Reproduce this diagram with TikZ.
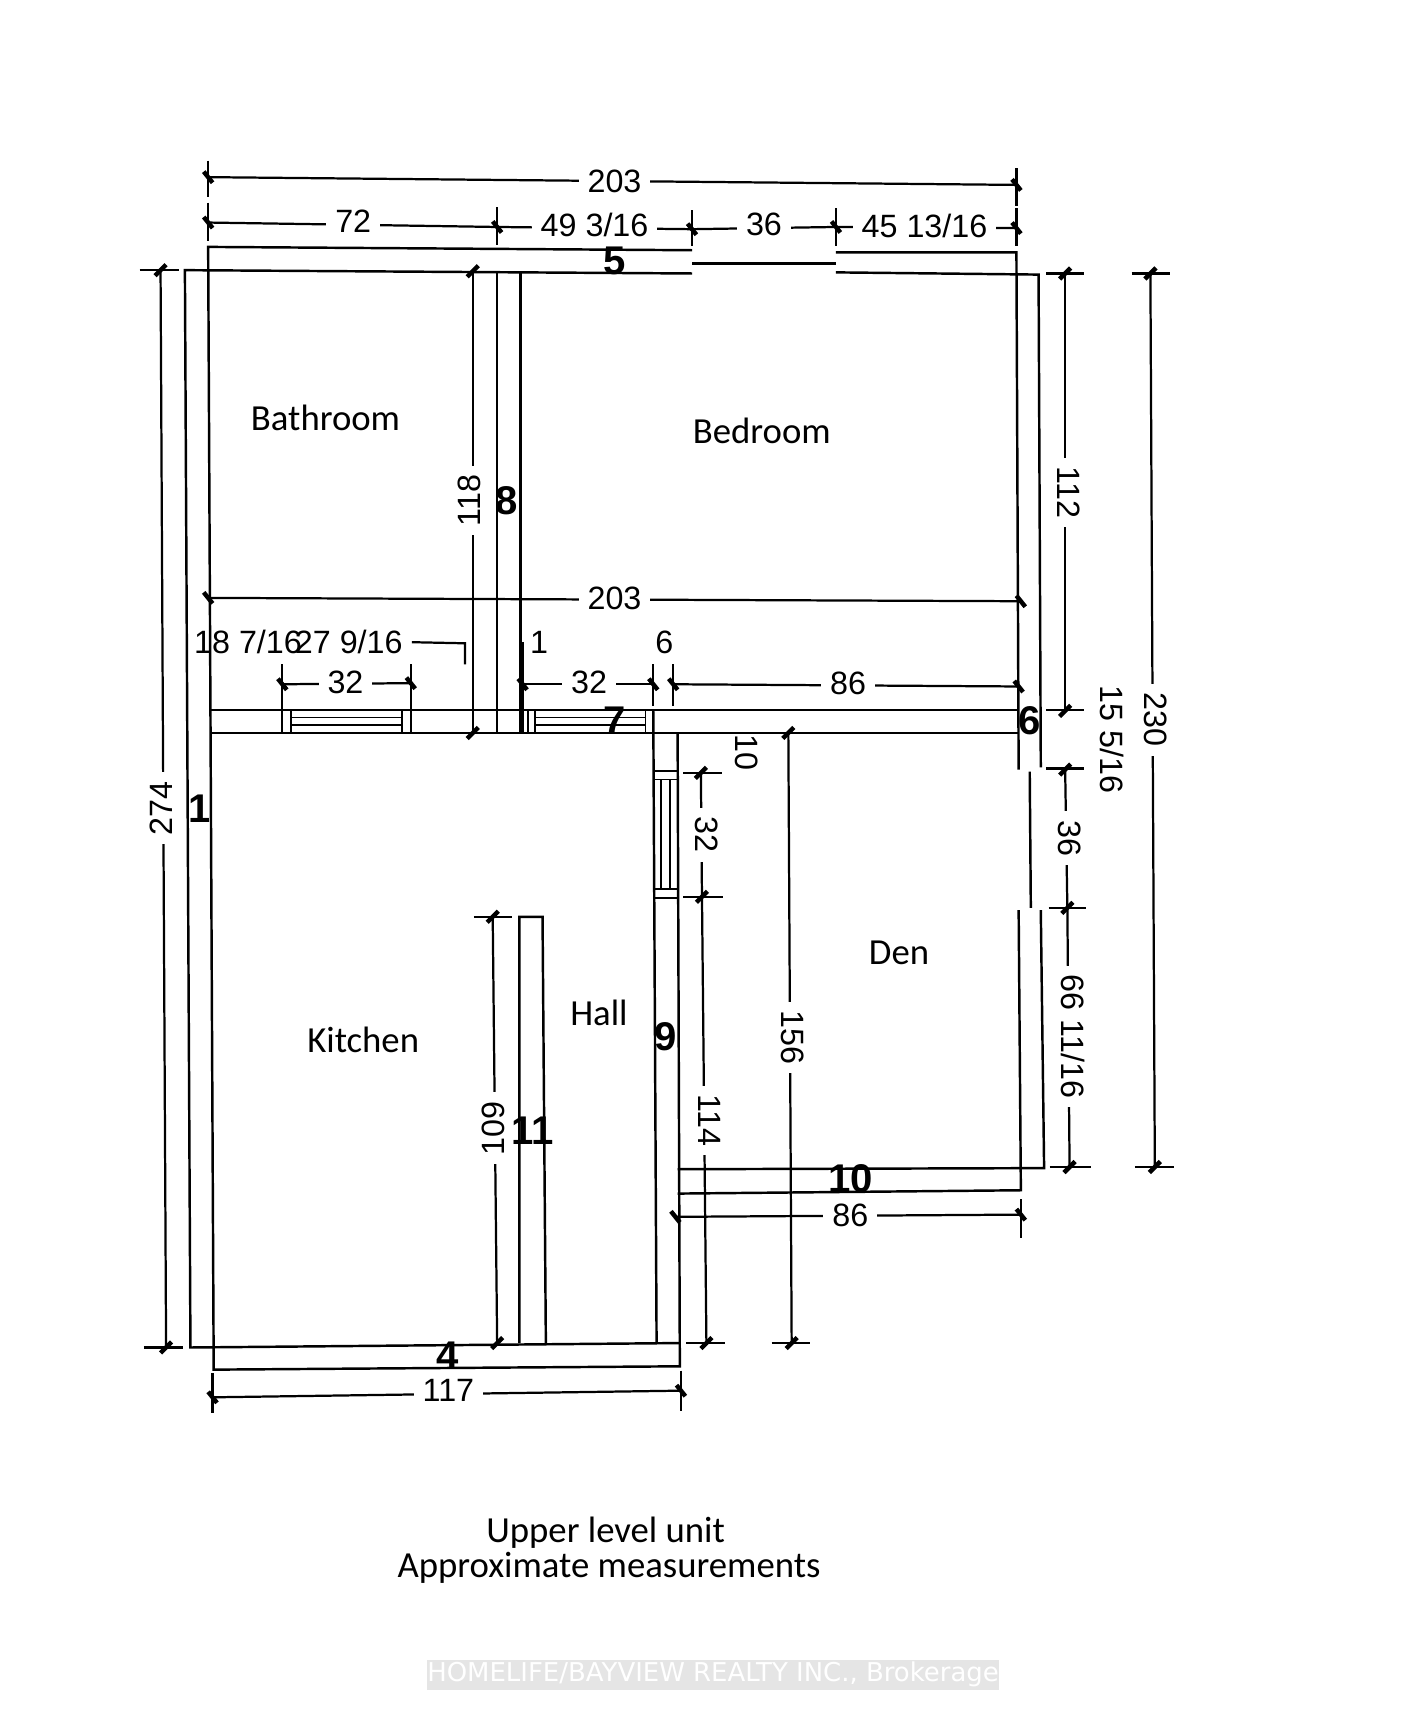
\documentclass[tikz,border=0pt]{standalone}
\usepackage{fontspec}
\setmainfont{Liberation Sans}
\newfontfamily\roomfont{Carlito}
\newfontfamily\markfont{DejaVu Sans}
\begin{document}
\begin{tikzpicture}[
    x=0.4973pt, y=-0.4973pt,
    wall/.style={draw=black, line width=1.1pt},
    thinwall/.style={draw=black, line width=0.8pt},
    dimline/.style={draw=black, line width=1pt},
    dimtick/.style={draw=black, line width=2pt},
    dimtext/.style={fill=white, inner sep=4pt, font=\fontsize{14.5}{16}\selectfont},
    dimplain/.style={inner sep=0pt, font=\fontsize{14.5}{16}\selectfont},
    walltext/.style={inner sep=0pt, font=\fontsize{18}{20}\selectfont\bfseries},
    roomtext/.style={inner sep=0pt, font=\fontsize{16.5}{19}\selectfont\roomfont},
  ]
    \useasboundingbox (0,0) rectangle (1287,1567.9);

    % Outer walls
    \draw[wall] (625,226) -- (188,223) -- (193,1237) -- (614,1234) -- (612,662);
    \draw[wall] (625,247) -- (167,244) -- (172,1217) -- (614,1213);
    \draw[wall] (625,238) -- (755,238);
    \draw[wall] (755,228) -- (918,228) -- (920,695);
    \draw[wall] (755,246) -- (938,248) -- (940,693);
    \draw[wall] (930,697) -- (931,820);
    \draw[wall] (920,822) -- (922,1075) -- (612,1078);
    \draw[wall] (940,822) -- (943,1055) -- (612,1056);

    % Inner walls
    \draw[wall] (449,247) -- (449,662);
    \draw[wall] (470,247) -- (470,662);
    \draw[wall] (190,641) -- (920,641);
    \draw[wall] (190,662) -- (920,662);
    \draw[wall] (590,641) -- (593,1213);
    \draw[wall] (469,1213) -- (469,828) -- (490,828) -- (493,1213);

    % Windows
    \foreach \x in {255,263,363,371,472,477,483,583}
      \draw[thinwall] (\x,641) -- (\x,662);
    \foreach \y in {648,654.5} {
      \draw[thinwall] (263,\y) -- (363,\y);
      \draw[thinwall] (483,\y) -- (583,\y);
    }
    \foreach \y in {696,704,803,811}
      \draw[thinwall] (590,\y) -- (612,\y);
    \foreach \x in {597,605}
      \draw[thinwall] (\x,704) -- (\x,803);

    % Horizontal dimension lines
    \draw[dimline] (188,160) -- (918,167);
    \draw[dimline] (188,201) -- (449,205) -- (625,207) -- (755,205) -- (918,206);
    \draw[dimline] (188,540) -- (922,543);
    \draw[dimline] (255,618) -- (371,617);
    \draw[dimline] (472,618) -- (590,618);
    \draw[dimline] (608,618) -- (920,620);
    \draw[dimline] (610,1099) -- (922,1097);
    \draw[dimline] (192,1262) -- (615,1256);
    \draw[dimline] (372,580) -- (420,581) -- (420,600);

    % Vertical dimension lines
    \draw[dimline] (145,244) -- (150,1217);
    \draw[dimline] (427,245) -- (427,662);
    \draw[dimline] (445,828) -- (449,1213);
    \draw[dimline] (633,698) -- (634,810) -- (638,1213);
    \draw[dimline] (712,662) -- (715,1213);
    \draw[dimline] (962,247) -- (962,642);
    \draw[dimline] (962,695) -- (964,820) -- (966,1054);
    \draw[dimline] (1039,247) -- (1043,1054);

    % Extension lines
    \foreach \x/\a/\b in {188/145/178, 188/183/218, 449/187/221, 625/190/222,
        755/188/222, 918/152/186, 918/188/222, 255/600/640, 371/600/640,
        472/580/640, 590/600/638, 608/600/638, 922/1083/1118, 192/1240/1276,
        615/1238/1274}
      \draw[dimline] (\x,\a) -- (\x,\b);
    \foreach \y/\a/\b in {244/126/162, 1217/130/165, 247/945/979, 641/945/979,
        694/945/979, 820/947/981, 1054/948/985, 247/1022/1057, 1054/1025/1060,
        698/617/652, 810/617/653, 1213/620/655, 1213/697/732, 828/428/462}
      \draw[dimline] (\a,\y) -- (\b,\y);

    % Ticks on horizontal dimensions
    \foreach \x/\y in {188/160, 918/167, 188/201, 449/205, 625/207, 755/205,
        918/206, 188/540, 922/543, 255/618, 371/617, 472/618, 590/618, 608/618,
        920/620, 610/1099, 922/1097, 192/1262, 615/1256}
      \draw[dimtick] (\x-4,\y-5) -- (\x+4,\y+5);
    % Ticks on vertical dimensions
    \foreach \x/\y in {145/244, 150/1217, 427/245, 427/662, 445/828, 449/1213,
        633/698, 634/810, 638/1213, 712/662, 715/1213, 962/247, 962/642,
        962/695, 964/820, 966/1054, 1039/247, 1043/1054}
      \draw[dimtick] (\x+5,\y-5) -- (\x-5,\y+5);

    % Dimension labels
    \node[dimtext] (top203) at (555,164) {203};
    \node[dimtext] (top72) at (319,200) {72};
    \node[dimtext] (top49) at (537,203) {49 3/16};
    \node[dimtext] (top36) at (690,203) {36};
    \node[dimtext] (top45) at (835,204) {45 13/16};
    \node[dimtext] (mid203) at (555,540) {203};
    \node[dimplain] (win18) at (224,580) {18 7/16};
    \node[dimplain] (win27) at (315,580) {27 9/16};
    \node[dimplain] (one) at (487,580) {1};
    \node[dimplain] (six) at (600,580) {6};
    \node[dimtext] (win32a) at (312,616) {32};
    \node[dimtext] (win32b) at (532,616) {32};
    \node[dimtext] (wall86) at (766,617) {86};
    \node[dimtext] (den86) at (768,1098) {86};
    \node[dimtext] (bot117) at (405,1256) {117};
    \node[dimtext, rotate=90] (left274) at (146,730) {274};
    \node[dimtext, rotate=90] (bath118) at (424,452) {118};
    \node[dimtext, rotate=90] (kit109) at (446,1019) {109};
    \node[dimtext, rotate=-90] (win32c) at (638,754) {32};
    \node[dimtext, rotate=-90] (hall114) at (641,1012) {114};
    \node[dimplain, rotate=-90] (ten) at (674,680) {10};
    \node[dimtext, rotate=-90] (den156) at (716,937) {156};
    \node[dimtext, rotate=-90] (right112) at (965,445) {112};
    \node[dimplain, rotate=-90] (right15) at (1004,668) {15 5/16};
    \node[dimtext, rotate=-90] (right36) at (966,757) {36};
    \node[dimtext, rotate=-90] (right66) at (969,936) {66 11/16};
    \node[dimtext, rotate=-90] (right230) at (1044,650) {230};

    % Wall numbers
    \node[walltext] (wall5) at (555,236) {5};
    \node[walltext] (wall8) at (458,452) {8};
    \node[walltext] (wall1) at (180,730) {1};
    \node[walltext] (wall7) at (555,651) {7};
    \node[walltext] (wall6) at (930,651) {6};
    \node[walltext] (wall9) at (601,936) {9};
    \node[walltext] (wall11) at (481,1021) {11};
    \node[walltext] (wall4) at (404,1224) {4};
    \node[walltext] (wall10) at (768,1065) {10};

    % Rooms
    \node[roomtext] (bathroom) at (294,377) {Bathroom};
    \node[roomtext] (bedroom) at (688,389) {Bedroom};
    \node[roomtext] (kitchen) at (328,939) {Kitchen};
    \node[roomtext] (hall) at (541,915) {Hall};
    \node[roomtext] (den) at (812,861) {Den};
    \node[roomtext] (caption1) at (547,1384) {Upper level unit};
    \node[roomtext] (caption2) at (550,1416) {Approximate measurements};

    % Watermark
    \node[fill=black!10, text=white, minimum width=256.5pt, minimum height=13.5pt,
      inner sep=0pt, font=\fontsize{11.65}{13}\selectfont\markfont] (brand) at (644,1512.5)
      {HOMELIFE/BAYVIEW REALTY INC., Brokerage};
  \end{tikzpicture}
\end{document}
